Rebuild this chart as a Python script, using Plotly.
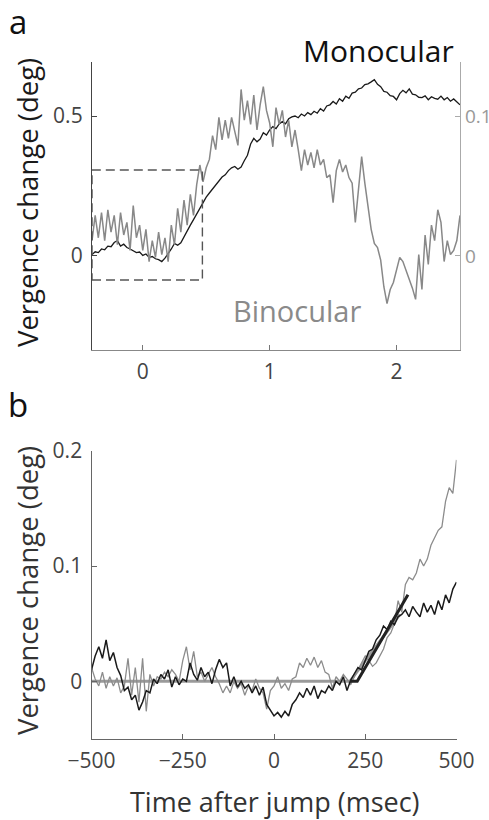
import plotly.graph_objects as go

# ---------------- Panel a data (time in s) ----------------
t_a = [-0.4, -0.375, -0.35, -0.325, -0.3, -0.275, -0.25, -0.225, -0.2, -0.175,
       -0.15, -0.125, -0.1, -0.075, -0.05, -0.025, 0.0, 0.025, 0.05, 0.075,
       0.1, 0.125, 0.15, 0.175, 0.2, 0.225, 0.25, 0.275, 0.3, 0.325,
       0.35, 0.375, 0.4, 0.425, 0.45, 0.475, 0.5, 0.525, 0.55, 0.575,
       0.6, 0.625, 0.65, 0.675, 0.7, 0.725, 0.75, 0.775, 0.8, 0.825,
       0.85, 0.875, 0.9, 0.925, 0.95, 0.975, 1.0, 1.025, 1.05, 1.075,
       1.1, 1.125, 1.15, 1.175, 1.2, 1.225, 1.25, 1.275, 1.3, 1.325,
       1.35, 1.375, 1.4, 1.425, 1.45, 1.475, 1.5, 1.525, 1.55, 1.575,
       1.6, 1.625, 1.65, 1.675, 1.7, 1.725, 1.75, 1.775, 1.8, 1.825,
       1.85, 1.875, 1.9, 1.925, 1.95, 1.975, 2.0, 2.025, 2.05, 2.075,
       2.1, 2.125, 2.15, 2.175, 2.2, 2.225, 2.25, 2.275, 2.3, 2.325,
       2.35, 2.375, 2.4, 2.425, 2.45, 2.475, 2.5]

monocular_a = [0.005, 0.015, 0.012, 0.025, 0.022, 0.035, 0.033, 0.048, 0.055, 0.035,
               0.042, 0.030, 0.025, 0.018, 0.012, 0.014, 0.002, 0.007, -0.005, -0.002,
               -0.010, -0.013, -0.020, -0.008, 0.008, 0.025, 0.045, 0.038, 0.047, 0.070,
               0.090, 0.110, 0.130, 0.150, 0.170, 0.195, 0.210, 0.225, 0.240, 0.255,
               0.270, 0.282, 0.290, 0.305, 0.315, 0.320, 0.310, 0.318, 0.340, 0.360,
               0.400, 0.420, 0.408, 0.418, 0.440, 0.432, 0.450, 0.462, 0.455, 0.472,
               0.480, 0.472, 0.490, 0.497, 0.500, 0.494, 0.507, 0.500, 0.512, 0.505,
               0.517, 0.510, 0.526, 0.518, 0.536, 0.540, 0.552, 0.543, 0.562, 0.553,
               0.571, 0.563, 0.582, 0.585, 0.597, 0.600, 0.612, 0.615, 0.622, 0.630,
               0.613, 0.605, 0.588, 0.585, 0.573, 0.570, 0.558, 0.580, 0.592, 0.583,
               0.597, 0.578, 0.576, 0.567, 0.566, 0.572, 0.558, 0.569, 0.563, 0.560,
               0.571, 0.558, 0.566, 0.553, 0.561, 0.550, 0.540]

binocular_a = [0.011, 0.029, 0.013, 0.031, 0.011, 0.033, 0.017, 0.029, 0.008, 0.031,
               0.015, 0.024, 0.004, 0.036, 0.013, 0.022, 0.004, 0.019, -0.004, 0.011,
               -0.001, 0.017, 0.001, 0.013, -0.004, 0.022, 0.008, 0.034, 0.017, 0.040,
               0.022, 0.044, 0.029, 0.051, 0.065, 0.053, 0.063, 0.069, 0.086, 0.076,
               0.099, 0.083, 0.097, 0.084, 0.099, 0.089, 0.079, 0.119, 0.097, 0.111,
               0.094, 0.115, 0.090, 0.108, 0.121, 0.104, 0.095, 0.078, 0.106, 0.094,
               0.104, 0.085, 0.097, 0.078, 0.090, 0.076, 0.061, 0.076, 0.065, 0.074,
               0.063, 0.076, 0.065, 0.069, 0.056, 0.058, 0.038, 0.061, 0.069, 0.060,
               0.065, 0.056, 0.052, 0.024, 0.049, 0.071, 0.052, 0.036, 0.019, 0.009,
               0.006, -0.003, -0.022, -0.034, -0.024, -0.019, -0.010, -0.001, -0.004, -0.010,
               -0.017, -0.023, -0.031, 0.001, -0.024, 0.015, -0.006, 0.022, 0.011, 0.033,
               0.024, -0.004, 0.011, 0.001, 0.004, 0.011, 0.029]

# dashed box (left-axis units)
box_t = [-0.4, 0.47]
box_v = [-0.086, 0.307]

# ---------------- Panel b data (time in ms) ----------------
t_b = [-500, -490, -480, -470, -460, -450, -440, -430, -420, -410,
       -400, -390, -380, -370, -360, -350, -340, -330, -320, -310,
       -300, -290, -280, -270, -260, -250, -240, -230, -220, -210,
       -200, -190, -180, -170, -160, -150, -140, -130, -120, -110,
       -100, -90, -80, -70, -60, -50, -40, -30, -20, -10,
       0, 10, 20, 30, 40, 50, 60, 70, 80, 90,
       100, 110, 120, 130, 140, 150, 160, 170, 180, 190,
       200, 210, 220, 230, 240, 250, 260, 270, 280, 290,
       300, 310, 320, 330, 340, 350, 360, 370, 380, 390,
       400, 410, 420, 430, 440, 450, 460, 470, 480, 490, 500]

monocular_b = [0.010, 0.022, 0.030, 0.020, 0.036, 0.018, 0.025, 0.012, 0.005, -0.008,
               -0.005, -0.016, -0.012, -0.025, -0.018, -0.008, -0.010, 0.002, -0.002, 0.006,
               0.002, 0.010, -0.005, 0.004, -0.003, 0.002, 0.000, 0.016, 0.006, 0.001,
               0.012, 0.004, 0.008, -0.002, 0.010, 0.019, 0.012, 0.016, -0.004, 0.004,
               -0.005, 0.000, -0.006, -0.003, -0.010, -0.004, -0.012, -0.005, -0.020, -0.025,
               -0.030, -0.027, -0.031, -0.026, -0.030, -0.020, -0.016, -0.010, -0.014, -0.006,
               -0.012, -0.004, -0.015, -0.008, -0.010, -0.004, -0.008, 0.000, -0.003, 0.004,
               -0.008, 0.001, 0.006, 0.012, 0.010, 0.018, 0.026, 0.028, 0.036, 0.040,
               0.048, 0.045, 0.052, 0.049, 0.056, 0.058, 0.062, 0.056, 0.065, 0.060,
               0.056, 0.068, 0.060, 0.066, 0.058, 0.070, 0.062, 0.075, 0.068, 0.080, 0.086]

binocular_b = [0.012, 0.002, -0.004, 0.008, -0.006, 0.004, -0.004, 0.003, -0.010, -0.004,
               0.020, -0.012, 0.012, -0.018, 0.020, -0.026, 0.006, -0.004, 0.004, 0.002,
               0.008, 0.004, 0.010, 0.006, 0.000, 0.018, 0.030, 0.010, 0.026, 0.004,
               0.008, 0.000, 0.006, 0.012, 0.004, -0.002, -0.010, -0.004, -0.010, 0.000,
               -0.006, -0.002, -0.012, -0.004, -0.008, 0.002, -0.006, -0.010, -0.024, -0.008,
               -0.004, 0.004, -0.006, -0.002, -0.008, 0.002, 0.004, 0.016, 0.012, 0.020,
               0.014, 0.021, 0.012, 0.018, 0.008, 0.006, -0.006, 0.004, 0.000, 0.006,
               0.002, -0.003, 0.004, 0.010, 0.016, 0.022, 0.018, 0.013, 0.016, 0.022,
               0.028, 0.038, 0.042, 0.050, 0.070, 0.060, 0.084, 0.090, 0.088, 0.094,
               0.106, 0.100, 0.106, 0.118, 0.124, 0.131, 0.134, 0.156, 0.168, 0.163, 0.192]

# piecewise-linear fits
fit_bin_t = [-500, 208, 345]
fit_bin_v = [0.0, 0.0, 0.058]
fit_mon_t = [208, 228, 367]
fit_mon_v = [0.0, 0.0, 0.075]

W, H = 489, 820
FONT = "Open Sans"
DARK = "#1a1a1a"
GRAY = "#888888"

fig = go.Figure()

fig.add_trace(go.Scatter(x=t_a, y=monocular_a, mode="lines",
                         line=dict(color=DARK, width=1.3), xaxis="x", yaxis="y",
                         showlegend=False))
fig.add_trace(go.Scatter(x=t_a, y=binocular_a, mode="lines",
                         line=dict(color=GRAY, width=1.5), xaxis="x", yaxis="y2",
                         showlegend=False))

fig.add_trace(go.Scatter(x=fit_bin_t, y=fit_bin_v, mode="lines",
                         line=dict(color="#9a9a9a", width=3), xaxis="x2", yaxis="y3",
                         showlegend=False))
fig.add_trace(go.Scatter(x=t_b, y=binocular_b, mode="lines",
                         line=dict(color="#8c8c8c", width=1.3), xaxis="x2", yaxis="y3",
                         showlegend=False))
fig.add_trace(go.Scatter(x=t_b, y=monocular_b, mode="lines",
                         line=dict(color=DARK, width=1.5), xaxis="x2", yaxis="y3",
                         showlegend=False))
fig.add_trace(go.Scatter(x=fit_mon_t, y=fit_mon_v, mode="lines",
                         line=dict(color="#222222", width=3), xaxis="x2", yaxis="y3",
                         showlegend=False))

tickfont = dict(family=FONT, size=21, color="#444444")

def px_x(p):
    return p / W

def px_y(p):
    return 1 - p / H

common = dict(automargin=False, showgrid=False, zeroline=False, ticks="inside",
              ticklen=5, showline=True, linewidth=1.3)

fig.update_layout(
    width=W, height=H,
    autosize=False,
    margin=dict(l=0, r=0, t=0, b=0, pad=0, autoexpand=False),
    paper_bgcolor="white", plot_bgcolor="white",
    font=dict(family=FONT),
    xaxis=dict(domain=[px_x(92), px_x(460)], anchor="y", range=[-0.4, 2.5],
               tickvals=[0, 1, 2], ticktext=["0", "1", "2"],
               tickcolor="#777", linecolor="#888", tickfont=tickfont,
               ticklabelstandoff=3, **common),
    yaxis=dict(domain=[px_y(350), px_y(62)], anchor="x", range=[-0.336, 0.693],
               tickvals=[0, 0.5], ticktext=["0", "0.5"],
               tickcolor="#444", linecolor="#444", tickfont=tickfont,
               ticklabelstandoff=4, **common),
    yaxis2=dict(overlaying="y", side="right", anchor="x", range=[-0.0672, 0.1386],
                tickvals=[0, 0.1], ticktext=["0", "0.1"],
                tickcolor="#aaa", linecolor="#aaa",
                tickfont=dict(family=FONT, size=19, color="#999999"),
                ticklabelstandoff=0, **common),
    xaxis2=dict(domain=[px_x(91.5), px_x(456.5)], anchor="y3", range=[-500, 500],
                tickvals=[-500, -250, 0, 250, 500],
                ticktext=["\u2212500", "\u2212250", "0", "250", "500"],
                tickcolor="#666", linecolor="#666",
                tickfont=tickfont, ticklabelstandoff=3, **common),
    yaxis3=dict(domain=[px_y(739), px_y(450.7)], anchor="x2", range=[-0.05, 0.2],
                tickvals=[0, 0.1, 0.2], ticktext=["0", "0.1", "0.2"],
                tickcolor="#666", linecolor="#666",
                tickfont=tickfont, ticklabelstandoff=4, **common),
    shapes=[dict(type="rect", xref="x", yref="y",
                 x0=box_t[0], x1=box_t[1], y0=box_v[0], y1=box_v[1],
                 line=dict(color="#555555", width=1.4, dash="9px,5px"))],
)

def note(text, x, y, size, color, angle=0):
    fig.add_annotation(text=text, x=px_x(x), y=px_y(y), xref="paper", yref="paper",
                       xanchor="center", yanchor="middle", showarrow=False,
                       textangle=angle, font=dict(family=FONT, size=size, color=color))

note("a", 18, 21, 33, "#111111")
note("b", 18, 404, 33, "#111111")
note("Vergence change (deg)", 27, 203, 27.5, "#1a1a1a", -90)
note("Vergence change (deg)", 27, 591, 27.5, "#333333", -90)
note("Time after jump (msec)", 275, 801, 27, "#333333")
note("Monocular", 378, 50, 30, "#111111")
note("Binocular", 297, 310, 29, "#8a8a8a")

fig.write_html("out.html",
               config={"displayModeBar": False},
               post_script="document.body.style.margin='0';"
                           "document.body.style.overflow='hidden';")
